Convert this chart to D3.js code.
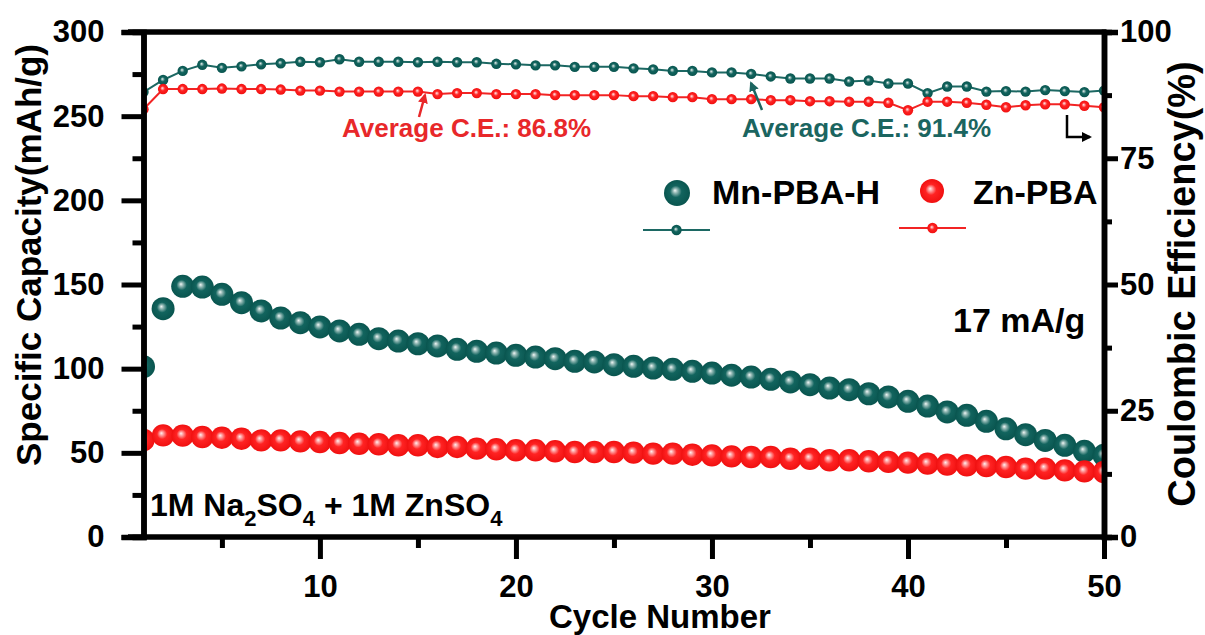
<!DOCTYPE html>
<html><head><meta charset="utf-8">
<script src="https://cdn.jsdelivr.net/npm/d3@7"></script>
<style>
html,body{margin:0;padding:0;background:#fff;}
svg{display:block;}
text{font-family:"Liberation Sans",Arial,sans-serif;font-weight:bold;}
</style></head>
<body>
<script>
// ---- data ----
const cycles = d3.range(1, 51);
const capMn = [101.2,135.6,148.9,148.5,144.2,139.2,134.3,130.1,127.3,124.8,
  122.4,120.4,117.8,116.4,114.8,113.5,111.5,110.3,109.3,107.9,
  106.9,105.9,104.4,104.0,102.4,101.4,100.4,99.6,98.4,97.4,
  96.1,95.0,93.7,92.1,90.5,88.5,87.5,85.1,83.2,80.6,
  77.8,74.3,72.3,68.7,64.3,60.8,57.4,54.5,50.9,48.5];
const capZn = [57.6,60.4,60.2,59.4,59.0,58.4,57.4,57.4,56.8,56.4,
  55.8,55.4,55.1,54.5,54.5,53.5,53.5,52.5,52.1,51.5,
  51.5,50.9,50.5,50.5,50.5,50.1,49.5,49.5,48.9,48.5,
  47.9,47.5,47.5,46.5,46.5,45.6,45.6,45.0,44.6,44.2,
  43.6,43.0,42.6,42.2,41.6,40.6,40.6,39.6,39.0,38.6];
const ceMn = [88.1,90.5,92.3,93.5,92.9,93.2,93.6,93.8,94.1,94.0,
  94.6,94.1,94.1,94.1,94.0,94.1,94.0,94.0,93.7,93.6,
  93.4,93.4,93.1,93.1,93.1,92.8,92.6,92.3,92.3,92.0,
  92.0,91.7,91.2,90.8,90.8,90.8,90.2,90.4,89.8,89.8,
  87.9,89.2,89.2,88.2,88.3,88.2,88.5,88.3,88.1,88.4];
const ceZn = [84.7,88.7,88.7,88.7,88.8,88.7,88.7,88.6,88.4,88.4,
  88.2,88.2,88.2,88.2,88.2,87.7,87.9,87.9,87.7,87.7,
  87.7,87.5,87.5,87.5,87.5,87.3,87.3,87.1,87.1,86.7,
  86.7,86.7,86.5,86.5,86.3,86.3,86.2,86.2,86.0,84.5,
  86.2,86.2,86.0,85.6,85.1,85.5,85.7,85.7,85.4,85.1];
const leftMajor = [0,50,100,150,200,250,300];
const leftMinor = [25,75,125,175,225,275];
const rightMajor = [0,25,50,75,100];
const rightMinor = [12.5,37.5,62.5,87.5];
const xMajor = [10,20,30,40,50];
const xMinor = [5,15,25,35,45];
const seriesNames = ["Mn-PBA-H","Zn-PBA"];

// ---- layout ----
const W = 1205, H = 635;
const X0 = 143.5, X1 = 1104, Y0 = 537, Y1 = 32;

const svg = d3.select("body").append("svg").attr("width", W).attr("height", H);
const defs = svg.append("defs");
function grad(id, c0, c1, c2, c3) {
  const g = defs.append("radialGradient").attr("id", id)
    .attr("cx", "50%").attr("cy", "50%").attr("r", "50%")
    .attr("fx", "42%").attr("fy", "40%");
  g.append("stop").attr("offset", "0%").attr("stop-color", c0);
  g.append("stop").attr("offset", "18%").attr("stop-color", c1);
  g.append("stop").attr("offset", "45%").attr("stop-color", c2);
  g.append("stop").attr("offset", "100%").attr("stop-color", c3);
}
grad("gT", "#f2f7f6", "#8fb6b2", "#12645e", "#09554f");
grad("gR", "#fff0f0", "#ff9c9c", "#ff2323", "#f01010");
defs.append("clipPath").attr("id", "clip").append("rect")
  .attr("x", X0).attr("y", Y1).attr("width", X1 - X0).attr("height", Y0 - Y1);
function marker(id, col) {
  defs.append("marker").attr("id", id).attr("viewBox", "0 0 10 10")
    .attr("refX", 8).attr("refY", 5).attr("markerWidth", 4).attr("markerHeight", 4)
    .attr("orient", "auto").append("path").attr("d", "M0,0 L10,5 L0,10 z").attr("fill", col);
}
marker("aR", "#e8282a"); marker("aT", "#1b6560"); marker("aK", "#000");

const x = d3.scaleLinear().domain([1, 50]).range([X0, X1]);
const y = d3.scaleLinear().domain([0, 300]).range([Y0, Y1]);
const yR = d3.scaleLinear().domain([0, 100]).range([Y0, Y1]);

// ---- plot content ----
const plot = svg.append("g").attr("clip-path", "url(#clip)");
const line = d3.line().x((d, i) => x(cycles[i])).y(d => yR(d));
[[ceMn, "#1c6863", "gT"], [ceZn, "#f22424", "gR"]].forEach(([arr, col, g]) => {
  plot.append("path").datum(arr).attr("d", line).attr("fill", "none")
    .attr("stroke", col).attr("stroke-width", 2);
  plot.selectAll(null).data(arr).enter().append("circle")
    .attr("cx", (d, i) => x(cycles[i])).attr("cy", d => yR(d)).attr("r", 5.2)
    .attr("fill", `url(#${g})`);
});
[[capMn, "gT", 11.5], [capZn, "gR", 11.2]].forEach(([arr, g, r]) => {
  plot.selectAll(null).data(arr).enter().append("circle")
    .attr("cx", (d, i) => x(cycles[i])).attr("cy", d => y(d)).attr("r", r)
    .attr("fill", `url(#${g})`);
});

// ---- axes ----
const fs = 31;
function styleAxis(g) {
  g.select(".domain").attr("stroke", "#000").attr("stroke-width", 5.5);
  g.selectAll(".tick line").attr("stroke", "#000").attr("stroke-width", 5);
  g.selectAll(".tick text").attr("fill", "#000").attr("font-size", fs)
    .attr("font-family", '"Liberation Sans",Arial,sans-serif').attr("font-weight", "bold");
}
svg.append("line").attr("x1", 128).attr("x2", X1 + 2.5).attr("y1", Y1).attr("y2", Y1)
  .attr("stroke", "#000").attr("stroke-width", 5.5);
svg.append("line").attr("x1", 128).attr("x2", X1 + 2.5).attr("y1", Y0).attr("y2", Y0)
  .attr("stroke", "#000").attr("stroke-width", 5.5);

const gL = svg.append("g").attr("transform", `translate(${X0},0)`)
  .call(d3.axisLeft(y).tickValues(leftMajor).tickSize(22).tickPadding(17).tickFormat(d3.format("d")));
styleAxis(gL);
const gLm = svg.append("g").attr("transform", `translate(${X0},0)`)
  .call(d3.axisLeft(y).tickValues(leftMinor).tickSize(11).tickFormat(""));
styleAxis(gLm);

const gR = svg.append("g").attr("transform", `translate(${X1},0)`)
  .call(d3.axisRight(yR).tickValues(rightMajor).tickSize(14).tickPadding(2).tickFormat(d3.format("d")));
styleAxis(gR);
const gRm = svg.append("g").attr("transform", `translate(${X1},0)`)
  .call(d3.axisRight(yR).tickValues(rightMinor).tickSize(8).tickFormat(""));
styleAxis(gRm);

const gB = svg.append("g").attr("transform", `translate(0,${Y0})`)
  .call(d3.axisBottom(x).tickValues(xMajor).tickSize(22).tickPadding(16).tickFormat(d3.format("d")));
styleAxis(gB);
gB.select(".domain").remove();
const gBm = svg.append("g").attr("transform", `translate(0,${Y0})`)
  .call(d3.axisBottom(x).tickValues(xMinor).tickSize(11).tickFormat(""));
styleAxis(gBm);
gBm.select(".domain").remove();

// ---- titles ----
svg.append("text").attr("transform", "translate(41,255) rotate(-90)")
  .attr("text-anchor", "middle").attr("font-size", 35).text("Specific Capacity(mAh/g)");
svg.append("text").attr("transform", "translate(1195,284) rotate(-90)")
  .attr("text-anchor", "middle").attr("font-size", 38).text("Coulombic Efficiency(%)");
svg.append("text").attr("x", 660).attr("y", 628).attr("text-anchor", "middle")
  .attr("font-size", 33).text("Cycle Number");

// ---- annotations ----
svg.append("text").attr("x", 342).attr("y", 137).attr("font-size", 26).attr("fill", "#e8282a")
  .text("Average C.E.: 86.8%");
svg.append("text").attr("x", 742).attr("y", 137).attr("font-size", 26).attr("fill", "#1b6560")
  .text("Average C.E.: 91.4%");
svg.append("line").attr("x1", 419).attr("y1", 117).attr("x2", 425).attr("y2", 95)
  .attr("stroke", "#e8282a").attr("stroke-width", 2.5).attr("marker-end", "url(#aR)");
svg.append("line").attr("x1", 762).attr("y1", 110).attr("x2", 751).attr("y2", 83)
  .attr("stroke", "#1b6560").attr("stroke-width", 2.5).attr("marker-end", "url(#aT)");
svg.append("path").attr("d", "M1067,115 V137 H1090").attr("fill", "none")
  .attr("stroke", "#000").attr("stroke-width", 2.5).attr("marker-end", "url(#aK)");

// legend
const leg = [[677, 193, "gT", 13, 712, seriesNames[0], "#1c6863", 643, 710, 230],
             [932, 191, "gR", 12, 973, seriesNames[1], "#f22424", 899, 966, 228]];
leg.forEach(([cx, cy, g, r, tx, name, col, lx0, lx1, ly]) => {
  svg.append("circle").attr("cx", cx).attr("cy", cy).attr("r", r).attr("fill", `url(#${g})`);
  svg.append("text").attr("x", tx).attr("y", 204).attr("font-size", 34).text(name);
  svg.append("line").attr("x1", lx0).attr("x2", lx1).attr("y1", ly).attr("y2", ly)
    .attr("stroke", col).attr("stroke-width", 2);
  svg.append("circle").attr("cx", (lx0 + lx1) / 2).attr("cy", ly).attr("r", 5.2).attr("fill", `url(#${g})`);
});

svg.append("text").attr("x", 953).attr("y", 332).attr("font-size", 34).text("17 mA/g");

const el = svg.append("text").attr("x", 150).attr("y", 516).attr("font-size", 32);
el.append("tspan").text("1M Na");
el.append("tspan").attr("dy", 10).attr("font-size", 22).text("2");
el.append("tspan").attr("dy", -10).text("SO");
el.append("tspan").attr("dy", 10).attr("font-size", 22).text("4");
el.append("tspan").attr("dy", -10).text(" + 1M ZnSO");
el.append("tspan").attr("dy", 10).attr("font-size", 22).text("4");
</script>
</body></html>
